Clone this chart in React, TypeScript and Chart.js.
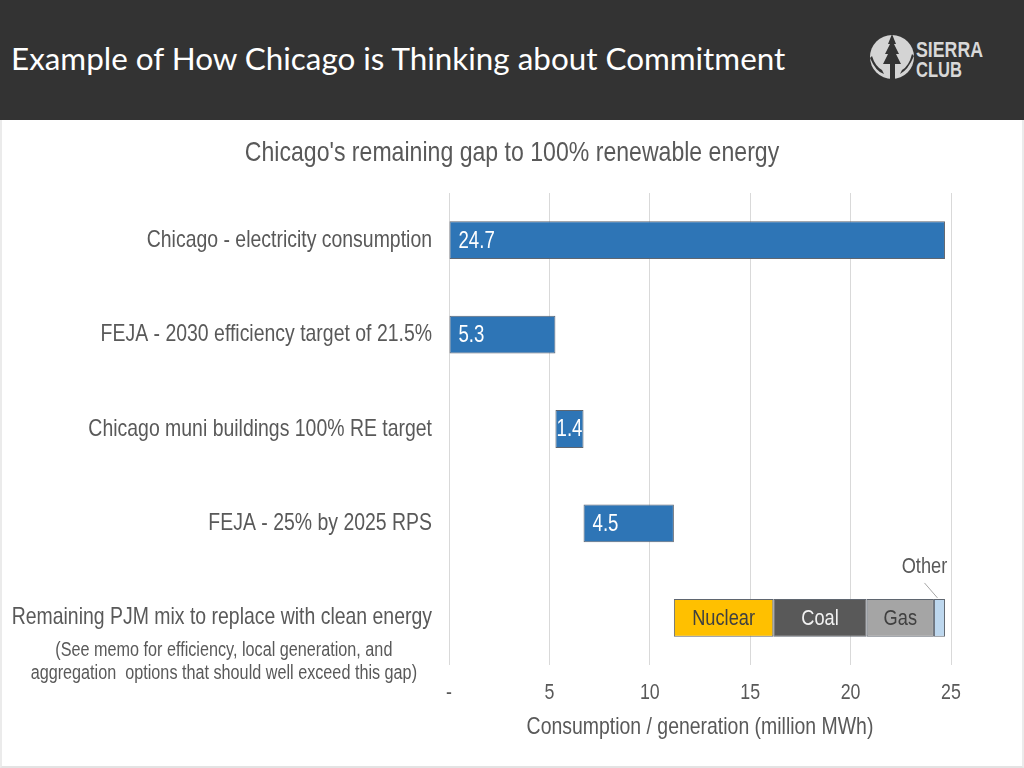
import React, { useEffect, useRef } from "react";
import { Chart, registerables } from "chart.js";

Chart.register(...registerables);

// ---------- data ----------
const slideTitle = "Example of How Chicago is Thinking about Commitment";
const chartTitle = "Chicago's remaining gap to 100% renewable energy";
const categories = [
  "Chicago - electricity consumption",
  "FEJA - 2030 efficiency target of 21.5%",
  "Chicago muni buildings 100% RE target",
  "FEJA - 25% by 2025 RPS",
  "Remaining PJM mix to replace with clean energy",
];
const noteLines = [
  "(See memo for efficiency, local generation, and",
  "aggregation  options that should well exceed this gap)",
];
const gapValues = [24.7, 5.3, 1.4, 4.5];
const mixLabels = ["Nuclear", "Coal", "Gas", "Other"];
const mixValues = [4.95, 4.65, 3.35, 0.55];
const xTickLabels = ["-", "5", "10", "15", "20", "25"];
const axisTitle = "Consumption / generation (million MWh)";

const mixColors = ["#FFC000", "#595959", "#A5A5A5", "#BDD7EE"];
const mixTextColors = ["#404040", "#F2F2F2", "#404040", "#595959"];
const FONT = "'Liberation Sans', Arial, sans-serif";
const GREY = "#595959";
const SX = 0.81; // horizontal condensing (Arial Narrow look)

// waterfall ranges built from the values
const gapRanges: ([number, number] | null)[] = [];
let cum = 0;
gapValues.forEach((v, i) => {
  if (i === 0) {
    gapRanges.push([0, v]);
  } else {
    gapRanges.push([cum, cum + v]);
    cum += v;
  }
});
gapRanges.push(null);

const mixDatasets = mixValues.map((v, k) => {
  const start = cum + mixValues.slice(0, k).reduce((a, b) => a + b, 0);
  const data: ([number, number] | null)[] = categories.map((_, i) =>
    i === categories.length - 1 ? [start, start + v] : null
  );
  return {
    label: mixLabels[k],
    data,
    backgroundColor: mixColors[k],
    borderColor: "#5f6670",
    borderWidth: 1,
    borderSkipped: false as const,
  };
});

function condense(ctx: CanvasRenderingContext2D) {
  const anyCtx = ctx as any;
  if (anyCtx.__condensed) return;
  anyCtx.__condensed = true;
  const orig = ctx.fillText.bind(ctx);
  anyCtx.fillText = (text: string, x: number, y: number) => {
    ctx.save();
    ctx.translate(x, y);
    ctx.scale(SX, 1);
    orig(text, 0, 0);
    ctx.restore();
  };
}

const labelPlugin = {
  id: "barLabels",
  afterDatasetsDraw(chart: any) {
    const ctx = chart.ctx as CanvasRenderingContext2D;
    ctx.save();
    ctx.textBaseline = "middle";
    // chart title
    ctx.font = `28.5px ${FONT}`;
    ctx.fillStyle = GREY;
    ctx.textAlign = "center";
    ctx.fillText(chartTitle, chart.width / 2, 33);
    // main bars
    const meta0 = chart.getDatasetMeta(0);
    meta0.data.forEach((el: any, i: number) => {
      if (!gapRanges[i]) return;
      const { x, base, y } = el.getProps(["x", "base", "y"], true);
      const left = Math.min(x, base);
      const w = Math.abs(x - base);
      const txt = String(gapValues[i]);
      ctx.font = `23px ${FONT}`;
      ctx.fillStyle = "#FFFFFF";
      const tw = ctx.measureText(txt).width * SX;
      if (w < tw + 18) {
        ctx.textAlign = "center";
        ctx.fillText(txt, left + w / 2, y + 1);
      } else {
        ctx.textAlign = "left";
        ctx.fillText(txt, left + 9, y + 1);
      }
    });
    // mix segments
    mixLabels.forEach((lab, k) => {
      const meta = chart.getDatasetMeta(k + 1);
      const el = meta.data[categories.length - 1];
      if (!el) return;
      const { x, base, y, height } = el.getProps(["x", "base", "y", "height"], true);
      ctx.font = `22.5px ${FONT}`;
      if (k === mixLabels.length - 1) {
        const cx = (x + base) / 2;
        const top = y - height / 2;
        ctx.strokeStyle = "#A6A6A6";
        ctx.lineWidth = 1;
        ctx.beginPath();
        ctx.moveTo(cx - 2, top - 1);
        ctx.lineTo(cx - 15, top - 16);
        ctx.stroke();
        ctx.fillStyle = GREY;
        ctx.textAlign = "center";
        ctx.fillText(lab, cx - 15, top - 32);
      } else {
        ctx.fillStyle = mixTextColors[k];
        ctx.textAlign = "center";
        ctx.fillText(lab, (x + base) / 2, y + 1);
      }
    });
    // note lines under the last category label
    const yScale = chart.scales.y;
    const lastY = yScale.getPixelForValue(categories.length - 1);
    ctx.font = `24px ${FONT}`;
    const mainW = ctx.measureText(categories[categories.length - 1]).width * SX;
    const labelRight = chart.chartArea.left - 17;
    const cxNote = labelRight - mainW / 2 + 2;
    ctx.font = `20px ${FONT}`;
    ctx.fillStyle = GREY;
    ctx.textAlign = "center";
    noteLines.forEach((line, j) => {
      ctx.fillText(line, cxNote, lastY + 33 + j * 23);
    });
    ctx.restore();
  },
};

function ChartView() {
  const ref = useRef<HTMLCanvasElement | null>(null);
  useEffect(() => {
    if (!ref.current) return;
    const ctx = ref.current.getContext("2d");
    if (!ctx) return;
    condense(ctx);
    const chart = new Chart(ctx, {
      type: "bar",
      data: {
        labels: categories,
        datasets: [
          {
            label: "Gap",
            data: gapRanges as any,
            backgroundColor: "#2E75B6",
            borderColor: "#5f6670",
            borderWidth: 1,
            borderSkipped: false,
          },
          ...(mixDatasets as any),
        ],
      },
      options: {
        indexAxis: "y",
        responsive: false,
        animation: false,
        maintainAspectRatio: false,
        layout: { padding: { left: 0, right: 73, top: 73, bottom: 0 } },
        datasets: {
          bar: { barPercentage: 0.4, categoryPercentage: 1, skipNull: true },
        },
        plugins: {
          legend: { display: false },
          tooltip: { enabled: false },
          title: { display: false },
        },
        scales: {
          x: {
            type: "linear",
            min: 0,
            max: 25,
            ticks: {
              stepSize: 5,
              color: GREY,
              font: { family: FONT, size: 22 },
              padding: 14.8,
              callback: (_v: any, idx: number) => xTickLabels[idx],
            },
            grid: { color: "#D9D9D9", drawTicks: false, lineWidth: 1 },
            border: { display: false },
            title: {
              display: true,
              text: axisTitle,
              color: GREY,
              font: { family: FONT, size: 24 },
              padding: { top: 0, bottom: 26.6 },
            },
            afterFit: (s: any) => {
              s.height = 103;
            },
          },
          y: {
            stacked: true,
            ticks: {
              color: GREY,
              font: { family: FONT, size: 24 },
              padding: 17,
            },
            grid: { display: false, drawTicks: false },
            border: { display: false },
            afterFit: (s: any) => {
              s.width = 449;
            },
          },
        },
      },
      plugins: [labelPlugin],
    } as any);
    return () => chart.destroy();
  }, []);
  return <canvas ref={ref} width={1024} height={648} style={{ display: "block" }} />;
}

function Logo() {
  return (
    <svg width={140} height={60} viewBox="0 0 140 60" style={{ position: "absolute", left: 862, top: 28 }}>
      <circle cx={30} cy={29} r={22} fill="#D4D4D4" />
      <path d="M30 6 L34 16 L32 16 L37 26 L34 26 L39 36 L33 36 L33 52 L28 52 L28 36 L21 36 L26 26 L23 26 L28 16 L26 16 Z" fill="#333333" />
      <path d="M8 30 Q14 44 22 46 L20 42 Q13 38 10 28 Z" fill="#333333" />
      <path d="M52 28 Q46 42 38 46 L40 42 Q47 38 50 26 Z" fill="#333333" />
      <text x={54} y={29} fill="#D8D8D8" fontFamily="'Liberation Sans', Arial" fontWeight="bold" fontSize={22} textLength={67} lengthAdjust="spacingAndGlyphs">SIERRA</text>
      <text x={54} y={49} fill="#D8D8D8" fontFamily="'Liberation Sans', Arial" fontWeight="bold" fontSize={22} textLength={46} lengthAdjust="spacingAndGlyphs">CLUB</text>
    </svg>
  );
}

export default function App() {
  return (
    <div style={{ position: "fixed", left: 0, top: 0, width: 1024, height: 768, background: "#FFFFFF", overflow: "hidden" }}>
      <div style={{ position: "absolute", left: 0, top: 0, width: 1024, height: 120, background: "#333333" }}>
        <div
          style={{
            position: "absolute",
            left: 11,
            top: 38,
            color: "#FFFFFF",
            fontFamily: "Lato, 'Open Sans', sans-serif",
            fontSize: 31.4,
            lineHeight: "40px",
            whiteSpace: "nowrap",
          }}
        >
          {slideTitle}
        </div>
        <Logo />
      </div>
      <div
        style={{
          position: "absolute",
          left: 0,
          top: 120,
          width: 1024,
          height: 648,
          boxSizing: "border-box",
          borderLeft: "2px solid #EBEBEB",
          borderRight: "2px solid #EBEBEB",
          borderBottom: "2px solid #E3E3E3",
        }}
      />
      <div style={{ position: "absolute", left: 0, top: 120 }}>
        <ChartView />
      </div>
    </div>
  );
}
